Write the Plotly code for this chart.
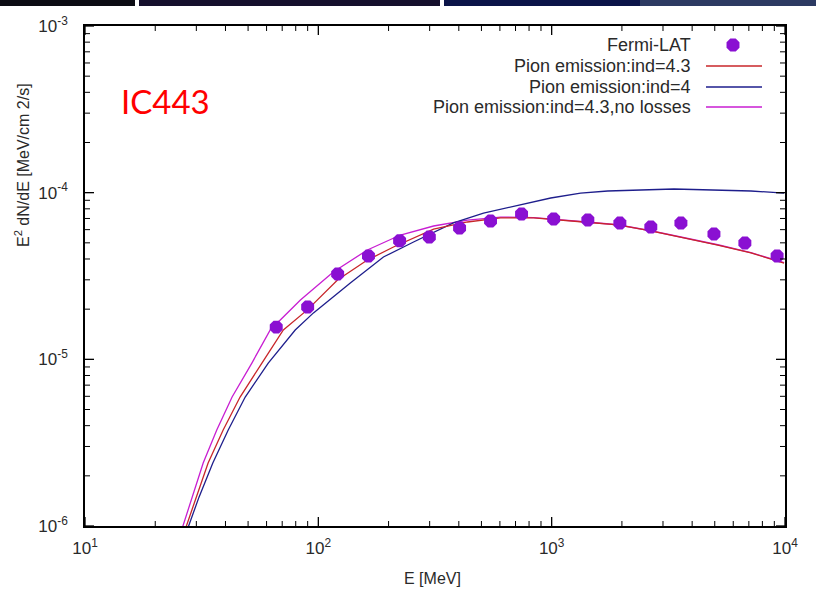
import math
import plotly.graph_objects as go

# ---------------- data ----------------
fermi_E = [66, 90, 121, 164, 223, 299, 403, 547, 743, 1020, 1429, 1960, 2660, 3580, 4960, 6730, 9250]
fermi_flux = [1.56e-5, 2.06e-5, 3.25e-5, 4.17e-5, 5.15e-5, 5.42e-5, 6.14e-5, 6.76e-5, 7.45e-5,
              6.95e-5, 6.85e-5, 6.57e-5, 6.22e-5, 6.57e-5, 5.65e-5, 4.99e-5, 4.17e-5]

pion43_E = [27.1, 29.9, 33.7, 39.1, 46.2, 57.3, 70.8, 89.7, 120.8, 162.2, 209.9, 311.9, 435.5,
            603.9, 837.5, 1371, 1919, 2661, 3690, 5152, 7145, 9908]
pion43_flux = [9.86e-7, 1.49e-6, 2.39e-6, 3.77e-6, 5.94e-6, 9.50e-6, 1.50e-5, 1.98e-5, 2.99e-5,
               3.94e-5, 4.72e-5, 6.05e-5, 6.67e-5, 7.05e-5, 7.05e-5, 6.67e-5, 6.40e-5, 5.89e-5,
               5.35e-5, 4.85e-5, 4.35e-5, 3.78e-5]

pion4_E = [27.7, 30.8, 35.3, 41.1, 48.6, 61.0, 79.6, 95.3, 137.1, 190.1, 255.9, 379.3, 510.5,
           837.5, 990.8, 1330, 1738, 3342, 7145, 9908]
pion4_flux = [9.86e-7, 1.49e-6, 2.39e-6, 3.77e-6, 5.94e-6, 9.50e-6, 1.50e-5, 1.90e-5, 2.87e-5,
              4.11e-5, 5.06e-5, 6.58e-5, 7.55e-5, 8.79e-5, 9.29e-5, 9.95e-5, 1.023e-4, 1.052e-4,
              1.023e-4, 9.95e-5]

pion43nl_E = [26.2, 28.7, 32.1, 36.7, 42.7, 51.9, 62.2, 83.8, 115.9, 162.2, 224.9, 311.9, 435.5,
              603.9, 837.5, 1371, 1919, 2661, 3690, 5152, 7145, 9908]
pion43nl_flux = [9.86e-7, 1.49e-6, 2.39e-6, 3.77e-6, 5.94e-6, 9.50e-6, 1.50e-5, 2.27e-5, 3.34e-5,
                 4.53e-5, 5.57e-5, 6.31e-5, 6.85e-5, 7.14e-5, 7.08e-5, 6.69e-5, 6.42e-5, 5.91e-5,
                 5.37e-5, 4.87e-5, 4.37e-5, 3.80e-5]

x_tickvals = [10, 100, 1000, 10000]
x_ticktext = ["10<sup>1</sup>", "10<sup>2</sup>", "10<sup>3</sup>", "10<sup>4</sup>"]
y_tickvals = [1e-6, 1e-5, 1e-4, 1e-3]
y_ticktext = ["10<sup>-6</sup>", "10<sup>-5</sup>", "10<sup>-4</sup>", "10<sup>-3</sup>"]
x_minor = [m * d for d in (10, 100, 1000) for m in range(2, 10)]
y_minor = [m * d for d in (1e-6, 1e-5, 1e-4) for m in range(2, 10)]

legend_labels = ["Fermi-LAT", "Pion emission:ind=4.3", "Pion emission:ind=4",
                 "Pion emission:ind=4.3,no losses"]

# ---------------- styling ----------------
W, H = 816, 594
L, R, T, B = 85, 785, 26, 526
X_LOG = (1, 4)
Y_LOG = (-6, -3)
C_RED = "#c8262a"
C_BLUE = "#1e1e8c"
C_MAG = "#c81ed2"
C_PT = "#8a10d2"
FONT = "Liberation Sans, Arial, sans-serif"
TXT = "#2a2a2a"
MAJ_LEN, MIN_LEN = 9, 5


def px(x):
    return (x - L) / (R - L)


def py(y):
    return (B - y) / (B - T)


def pix_to_data(x, y):
    lx = X_LOG[0] + px(x) * (X_LOG[1] - X_LOG[0])
    ly = Y_LOG[0] + py(y) * (Y_LOG[1] - Y_LOG[0])
    return 10 ** lx, 10 ** ly


def xfrac(v):
    return (math.log10(v) - X_LOG[0]) / (X_LOG[1] - X_LOG[0])


def yfrac(v):
    return (math.log10(v) - Y_LOG[0]) / (Y_LOG[1] - Y_LOG[0])


fig = go.Figure()

fig.add_trace(go.Scatter(x=pion43nl_E, y=pion43nl_flux, mode="lines",
                         line=dict(color=C_MAG, width=1.3), showlegend=False))
fig.add_trace(go.Scatter(x=pion4_E, y=pion4_flux, mode="lines",
                         line=dict(color=C_BLUE, width=1.3), showlegend=False))
fig.add_trace(go.Scatter(x=pion43_E, y=pion43_flux, mode="lines",
                         line=dict(color=C_RED, width=1.3), showlegend=False))
fig.add_trace(go.Scatter(x=fermi_E, y=fermi_flux, mode="markers",
                         marker=dict(symbol="octagon", size=14, color=C_PT,
                                     line=dict(width=0)), showlegend=False))

# ---- custom gnuplot-style legend (text right, sample right) ----
leg_rows = [45, 66, 87, 107]
leg_text_right = 693
samp_x0, samp_x1 = 706, 762
samp_colors = [C_PT, C_RED, C_BLUE, C_MAG]
for i, (lab, yy) in enumerate(zip(legend_labels, leg_rows)):
    fig.add_annotation(x=px(leg_text_right), y=py(yy), xref="paper", yref="paper",
                       text=lab, showarrow=False, xanchor="right", yanchor="middle",
                       font=dict(family=FONT, size=18, color=TXT))
    if i == 0:
        mx, my = pix_to_data(733, yy)
        fig.add_trace(go.Scatter(x=[mx], y=[my], mode="markers",
                                 marker=dict(symbol="octagon", size=14, color=C_PT),
                                 showlegend=False, hoverinfo="skip"))
    else:
        fig.add_shape(type="line", xref="paper", yref="paper",
                      x0=px(samp_x0), x1=px(samp_x1), y0=py(yy), y1=py(yy),
                      line=dict(color=samp_colors[i], width=1.3))

# ---- gnuplot-style inside ticks on all four sides ----
dx_maj, dx_min = MAJ_LEN / (B - T), MIN_LEN / (B - T)
dy_maj, dy_min = MAJ_LEN / (R - L), MIN_LEN / (R - L)
for vals, ln, wd in ((x_tickvals, dx_maj, 1.3), (x_minor, dx_min, 1.0)):
    for v in vals:
        f = xfrac(v)
        for y0, y1 in ((0, ln), (1, 1 - ln)):
            fig.add_shape(type="line", xref="paper", yref="paper", x0=f, x1=f, y0=y0, y1=y1,
                          line=dict(color="black", width=wd), layer="above")
for vals, ln, wd in ((y_tickvals, dy_maj, 1.3), (y_minor, dy_min, 1.0)):
    for v in vals:
        f = yfrac(v)
        for x0, x1 in ((0, ln), (1, 1 - ln)):
            fig.add_shape(type="line", xref="paper", yref="paper", x0=x0, x1=x1, y0=f, y1=f,
                          line=dict(color="black", width=wd), layer="above")

# IC443 label
fig.add_annotation(x=px(119), y=py(101), xref="paper", yref="paper", text="IC443",
                   showarrow=False, xanchor="left", yanchor="middle",
                   font=dict(family="Lato, sans-serif", size=33, color="#ff0000"))

# y title
fig.add_annotation(x=px(22), y=py(165), xref="paper", yref="paper",
                   text="E<sup>2</sup> dN/dE [MeV/cm 2/s]", textangle=-90,
                   showarrow=False, xanchor="center", yanchor="middle",
                   font=dict(family=FONT, size=16, color=TXT))
# x title
fig.add_annotation(x=px(432), y=py(578), xref="paper", yref="paper",
                   text="E [MeV]", showarrow=False, xanchor="center", yanchor="middle",
                   font=dict(family=FONT, size=16, color=TXT))

# top dark banner
banner = [(0, 135, "#0c0c14"), (139, 440, "#150f2c"), (444, 640, "#0b1448"),
          (640, 816, "#2c3a62")]
for x0, x1, col in banner:
    fig.add_shape(type="rect", xref="paper", yref="paper", x0=px(x0), x1=px(x1),
                  y0=py(6), y1=py(0), fillcolor=col, line=dict(width=0), layer="above")

axis_common = dict(type="log", showgrid=False, zeroline=False, showline=True,
                   linecolor="black", linewidth=1.5, mirror=True, ticks="",
                   tickfont=dict(family=FONT, size=17, color=TXT))

fig.update_layout(
    template="none",
    width=W, height=H,
    margin=dict(l=L, r=W - R, t=T, b=H - B),
    paper_bgcolor="white", plot_bgcolor="white",
    xaxis=dict(range=list(X_LOG), tickmode="array", tickvals=x_tickvals, ticktext=x_ticktext,
               ticklabelstandoff=6, **axis_common),
    yaxis=dict(range=list(Y_LOG), tickmode="array", tickvals=y_tickvals, ticktext=y_ticktext,
               ticklabelstandoff=12, **axis_common),
    showlegend=False,
)

fig.write_html("out.html")
